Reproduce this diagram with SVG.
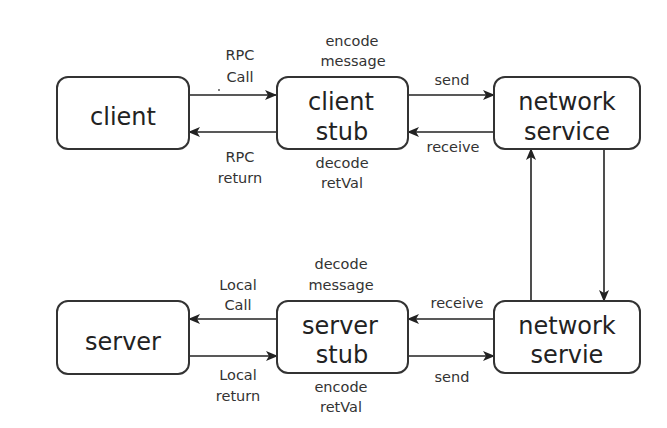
<svg xmlns="http://www.w3.org/2000/svg" width="667" height="428" viewBox="0 0 667 428">
<defs>
<marker id="arr" markerWidth="12" markerHeight="10" viewBox="0 0 12 10" refX="11" refY="5" orient="auto" markerUnits="userSpaceOnUse">
<path d="M0,0 L12,5 L0,10 L3,5 Z" fill="#222"/>
</marker>
<style>
.box{fill:#fff;stroke:#333;stroke-width:2}
.node{font-family:"DejaVu Sans",sans-serif;font-size:24px;fill:#222;text-anchor:middle}
.lbl{font-family:"DejaVu Sans",sans-serif;font-size:14.5px;fill:#333;text-anchor:middle}
.edge{fill:none;stroke:#222;stroke-width:1.6;marker-end:url(#arr)}
</style>
</defs>
<rect width="667" height="428" fill="#fff"/>
<g id="connectors">
<line class="edge" x1="189" y1="95" x2="276" y2="95"/>
<line class="edge" x1="276" y1="132" x2="189" y2="132"/>
<line class="edge" x1="408" y1="95" x2="494" y2="95"/>
<line class="edge" x1="494" y1="132" x2="408" y2="132"/>
<line class="edge" x1="531" y1="301" x2="531" y2="149"/>
<line class="edge" x1="604" y1="149" x2="604" y2="301"/>
<line class="edge" x1="277" y1="319" x2="189" y2="319"/>
<line class="edge" x1="189" y1="356" x2="277" y2="356"/>
<line class="edge" x1="494" y1="319" x2="408" y2="319"/>
<line class="edge" x1="408" y1="356" x2="494" y2="356"/>
<circle cx="219" cy="90" r="0.9" fill="#444"/>
<text class="lbl" x="240" y="60">RPC</text>
<text class="lbl" x="240" y="82">Call</text>
<text class="lbl" x="240" y="162">RPC</text>
<text class="lbl" x="240" y="183">return</text>
<text class="lbl" x="352" y="46">encode</text>
<text class="lbl" x="353" y="66">message</text>
<text class="lbl" x="342" y="168">decode</text>
<text class="lbl" x="342" y="188">retVal</text>
<text class="lbl" x="452" y="85">send</text>
<text class="lbl" x="453" y="152">receive</text>
<text class="lbl" x="238" y="290">Local</text>
<text class="lbl" x="238" y="310">Call</text>
<text class="lbl" x="238" y="380">Local</text>
<text class="lbl" x="238" y="401">return</text>
<text class="lbl" x="341" y="269">decode</text>
<text class="lbl" x="341" y="290">message</text>
<text class="lbl" x="341" y="392">encode</text>
<text class="lbl" x="341" y="412">retVal</text>
<text class="lbl" x="457" y="308">receive</text>
<text class="lbl" x="452" y="382">send</text>
</g>
<g id="client">
<rect class="box" x="57" y="77" width="132" height="72" rx="11"/>
<text class="node" x="123" y="125">client</text>
</g>
<g id="client-stub">
<rect class="box" x="277" y="77" width="131" height="72" rx="11"/>
<text class="node" x="341" y="110">client</text>
<text class="node" x="342" y="140">stub</text>
</g>
<g id="network-service">
<rect class="box" x="494" y="77" width="146" height="72" rx="11"/>
<text class="node" x="567" y="110">network</text>
<text class="node" x="567" y="140">service</text>
</g>
<g id="server">
<rect class="box" x="57" y="301" width="132" height="73" rx="11"/>
<text class="node" x="123" y="350">server</text>
</g>
<g id="server-stub">
<rect class="box" x="277" y="301" width="131" height="72" rx="11"/>
<text class="node" x="340" y="334">server</text>
<text class="node" x="342" y="363">stub</text>
</g>
<g id="network-servie">
<rect class="box" x="494" y="301" width="146" height="72" rx="11"/>
<text class="node" x="567" y="334">network</text>
<text class="node" x="567" y="363">servie</text>
</g>
</svg>
